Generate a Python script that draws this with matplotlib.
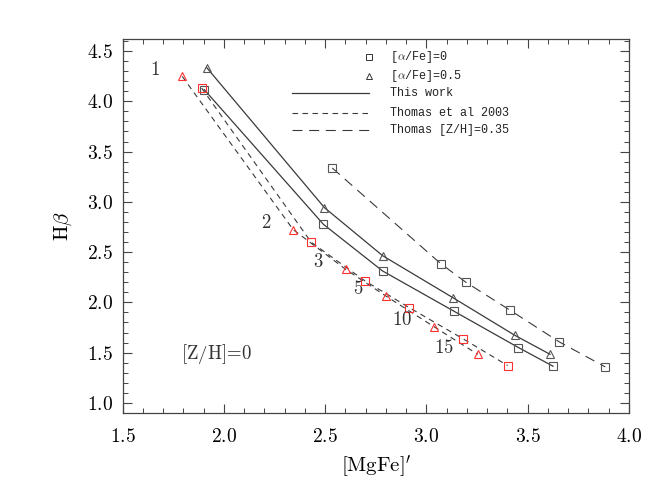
import matplotlib
matplotlib.use('Agg')
import matplotlib.pyplot as plt
from matplotlib.ticker import MultipleLocator, FormatStrFormatter

plt.rcParams['mathtext.fontset'] = 'cm'
plt.rcParams['font.family'] = 'DejaVu Serif'

ages = ['1', '2', '3', '5', '10', '15']

# This work, [alpha/Fe]=0.5 (triangles) and 0 (squares)
mgfe_tw_a05 = [1.915, 2.496, 2.784, 3.133, 3.436, 3.610]
hb_tw_a05 = [4.335, 2.943, 2.464, 2.044, 1.673, 1.484]
mgfe_tw_a0 = [1.903, 2.491, 2.783, 3.136, 3.454, 3.625]
hb_tw_a0 = [4.116, 2.777, 2.313, 1.912, 1.551, 1.365]

# Thomas et al 2003
mgfe_th_a05 = [1.794, 2.342, 2.601, 2.799, 3.039, 3.253]
hb_th_a05 = [4.248, 2.724, 2.329, 2.064, 1.756, 1.484]
mgfe_th_a0 = [1.890, 2.431, 2.697, 2.914, 3.179, 3.401]
hb_th_a0 = [4.132, 2.598, 2.213, 1.949, 1.640, 1.372]

# Thomas [Z/H]=0.35, [alpha/Fe]=0
mgfe_th35 = [2.535, 3.070, 3.195, 3.413, 3.656, 3.883]
hb_th35 = [3.337, 2.386, 2.200, 1.922, 1.607, 1.358]

# age label positions
age_x = [1.658, 2.208, 2.466, 2.663, 2.878, 3.088]
age_y = [4.315, 2.790, 2.399, 2.137, 1.822, 1.551]

fig = plt.figure(figsize=(6.66, 4.91), dpi=100)
ax = fig.add_axes([0.1842, 0.1589, 0.7602, 0.7617])

lc = '#3a3a3a'
mc = '#555555'
rc = '#ff3030'
ms = 5.5
short_dash = (0, (5, 4))
long_dash = (0, (9, 6))

ax.plot(mgfe_tw_a05, hb_tw_a05, '-', color=lc, lw=0.9)
ax.plot(mgfe_tw_a05, hb_tw_a05, '^', mfc='none', mec=mc, ms=ms, mew=0.8)
ax.plot(mgfe_tw_a0, hb_tw_a0, '-', color=lc, lw=0.9)
ax.plot(mgfe_tw_a0, hb_tw_a0, 's', mfc='none', mec=mc, ms=ms, mew=0.8)

ax.plot(mgfe_th_a05, hb_th_a05, color=lc, lw=0.8, ls=short_dash)
ax.plot(mgfe_th_a0, hb_th_a0, color=lc, lw=0.8, ls=short_dash)
ax.plot(mgfe_th_a05, hb_th_a05, '^', mfc='none', mec=rc, ms=ms, mew=0.8)
ax.plot(mgfe_th_a0, hb_th_a0, 's', mfc='none', mec=rc, ms=ms, mew=0.8)

ax.plot(mgfe_th35, hb_th35, color=lc, lw=0.8, ls=long_dash)
ax.plot(mgfe_th35, hb_th35, 's', mfc='none', mec=mc, ms=ms, mew=0.8)

for lab, x, y in zip(ages, age_x, age_y):
    ax.text(x, y, '$' + lab + '$', fontsize=13.5, color='#333333', ha='center', va='center')

ax.text(1.964, 1.484, r'$[\mathrm{Z/H}]\!=\!0$', fontsize=13.5, color='#333333',
        ha='center', va='center')

# legend, drawn by hand
lt = ax.transAxes
leg_y = [0.951, 0.901, 0.855, 0.803, 0.756]
ax.plot([0.4869], [leg_y[0]], 's', mfc='none', mec='#333333', ms=4.3, mew=0.7, transform=lt)
ax.plot([0.4869], [leg_y[1]], '^', mfc='none', mec='#333333', ms=4.3, mew=0.7, transform=lt)
ax.plot([0.334, 0.486], [leg_y[2]] * 2, '-', color=lc, lw=0.9, transform=lt)
ax.plot([0.334, 0.486], [leg_y[3]] * 2, color=lc, lw=0.8, ls=short_dash, transform=lt)
ax.plot([0.334, 0.486], [leg_y[4]] * 2, color=lc, lw=0.8, ls=long_dash, transform=lt)
leg_txt = [r'[$\alpha$/Fe]=0', r'[$\alpha$/Fe]=0.5', 'This work',
           'Thomas et al 2003', 'Thomas [Z/H]=0.35']
for t, y in zip(leg_txt, leg_y):
    ax.text(0.528, y, t, fontsize=8.5, family='Liberation Mono', color='#222222',
            va='center', ha='left', transform=lt)

ax.set_xlim(1.5, 4.0)
ax.set_ylim(0.9, 4.62)
ax.xaxis.set_major_locator(MultipleLocator(0.5))
ax.xaxis.set_minor_locator(MultipleLocator(0.1))
ax.yaxis.set_major_locator(MultipleLocator(0.5))
ax.yaxis.set_minor_locator(MultipleLocator(0.1))
ax.xaxis.set_major_formatter(FormatStrFormatter('$%.1f$'))
ax.yaxis.set_major_formatter(FormatStrFormatter('$%.1f$'))
ax.tick_params(which='both', direction='in', top=True, right=True, color='#444444')
ax.tick_params(which='major', length=6.5, width=0.8, labelsize=14)
ax.tick_params(axis='x', which='major', pad=11)
ax.tick_params(axis='y', which='major', pad=7)
ax.tick_params(which='minor', length=3.5, width=0.7)
for s in ax.spines.values():
    s.set_color('#444444')
    s.set_linewidth(0.9)

ax.set_xlabel(r'$[\mathrm{MgFe}]^{\prime}$', fontsize=15, labelpad=5)
ax.set_ylabel(r'$\mathrm{H}\beta$', fontsize=15, labelpad=9)

fig.savefig('out.png', dpi=100)
